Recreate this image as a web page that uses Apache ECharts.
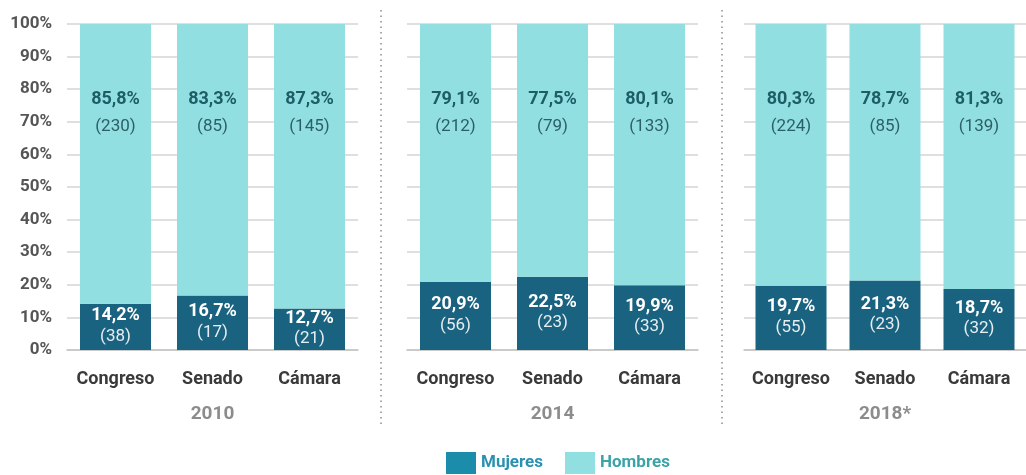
<!DOCTYPE html>
<html>
<head>
<meta charset="utf-8">
<script src="https://cdn.jsdelivr.net/npm/echarts@6/dist/echarts.min.js"></script>
<style>
  html, body { margin: 0; padding: 0; background: #fff; }
  #chart { width: 1026px; height: 475px; }
</style>
</head>
<body>
<div id="chart"></div>
<script>
const chambers = ["Congreso", "Senado", "Cámara"];
const years = ["2010", "2014", "2018*"];

// percentages per year: [Congreso, Senado, Cámara]
const mujeresPct = [
  [14.2, 16.7, 12.7],
  [20.9, 22.5, 19.9],
  [19.7, 21.3, 18.7],
];
const mujeresN = [
  [38, 17, 21],
  [56, 23, 33],
  [55, 23, 32],
];
const hombresPct = [
  [85.8, 83.3, 87.3],
  [79.1, 77.5, 80.1],
  [80.3, 78.7, 81.3],
];
const hombresN = [
  [230, 85, 145],
  [212, 79, 133],
  [224, 85, 139],
];

const yTicks = [0, 10, 20, 30, 40, 50, 60, 70, 80, 90, 100];

const chart = echarts.init(document.getElementById("chart"));

const FONT = "Roboto";
const fmt = (v) => v.toFixed(1).replace(".", ",") + "%";

const gridPos = [
  { left: 67, width: 291 },
  { left: 407, width: 291 },
  { left: 744, width: 288 },
];

const grids = gridPos.map((g) => ({
  left: g.left,
  width: g.width,
  top: 24,
  height: 326,
  containLabel: false,
}));

const xAxes = years.map((y, i) => ({
  type: "category",
  gridIndex: i,
  data: chambers,
  axisTick: { show: false },
  axisLine: { lineStyle: { color: "#c4c4c4", width: 1.5 } },
  axisLabel: {
    interval: 0,
    margin: 20,
    fontFamily: FONT,
    fontWeight: "bold",
    fontSize: 18,
    color: "#3a3a3a",
  },
  name: y,
  nameLocation: "middle",
  nameGap: 55,
  nameTextStyle: {
    fontFamily: FONT,
    fontWeight: "bold",
    fontSize: 19,
    color: "#8c8c8c",
  },
}));

const yAxes = years.map((y, i) => ({
  type: "value",
  gridIndex: i,
  min: 0,
  max: 100,
  interval: 10,
  axisLine: { show: false },
  axisTick: { show: false },
  splitLine: { lineStyle: { color: "#d4d4d4", width: 1.5 } },
  axisLabel: {
    show: i === 0,
    margin: 15,
    formatter: (v) => (yTicks.includes(v) ? v + "%" : ""),
    fontFamily: FONT,
    fontWeight: "bold",
    fontSize: 17,
    color: "#555",
  },
}));

const series = [];
years.forEach((y, i) => {
  series.push({
    name: "Mujeres",
    type: "bar",
    stack: "s" + i,
    xAxisIndex: i,
    yAxisIndex: i,
    barWidth: 71,
    itemStyle: { color: "#1a6380" },
    data: mujeresPct[i].map((v, j) => ({ value: v, n: mujeresN[i][j] })),
    label: {
      show: true,
      position: "inside",
      offset: [0, -1],
      formatter: (p) => "{p|" + fmt(p.value) + "}\n{n|(" + p.data.n + ")}",
      rich: {
        p: { fontFamily: FONT, fontWeight: "bold", fontSize: 18, color: "#fff", lineHeight: 21 },
        n: { fontFamily: FONT, fontSize: 17, color: "#e6eef2", lineHeight: 20 },
      },
    },
  });
  series.push({
    name: "Hombres",
    type: "bar",
    stack: "s" + i,
    xAxisIndex: i,
    yAxisIndex: i,
    barWidth: 71,
    itemStyle: { color: "#91dfe0" },
    data: hombresPct[i].map((v, j) => ({ value: v, n: hombresN[i][j] })),
    label: {
      show: true,
      position: "insideTop",
      distance: 62,
      formatter: (p) => "{p|" + fmt(p.value) + "}\n{n|(" + p.data.n + ")}",
      rich: {
        p: { fontFamily: FONT, fontWeight: "bold", fontSize: 18, color: "#1d5d66", lineHeight: 27 },
        n: { fontFamily: FONT, fontSize: 17, color: "#2c5f66", lineHeight: 27 },
      },
    },
  });
});

const option = {
  animation: false,
  grid: grids,
  xAxis: xAxes,
  yAxis: yAxes,
  series: series,
  legend: {
    left: 441,
    top: 447,
    itemWidth: 30,
    itemHeight: 22,
    itemGap: 22,
    icon: "rect",
    data: [
      {
        name: "Mujeres",
        itemStyle: { color: "#1b8ca9" },
        textStyle: { color: "#2a91b0" },
      },
      {
        name: "Hombres",
        itemStyle: { color: "#91dfe0" },
        textStyle: { color: "#3aa3a8" },
      },
    ],
    textStyle: { fontFamily: FONT, fontWeight: "bold", fontSize: 17 },
  },
  graphic: [381, 722].map((x) => ({
    type: "line",
    shape: { x1: x, y1: 10, x2: x, y2: 426 },
    style: { stroke: "#a9a9a9", lineWidth: 2, lineDash: [1.5, 4] },
  })),
};

chart.setOption(option);
</script>
</body>
</html>
